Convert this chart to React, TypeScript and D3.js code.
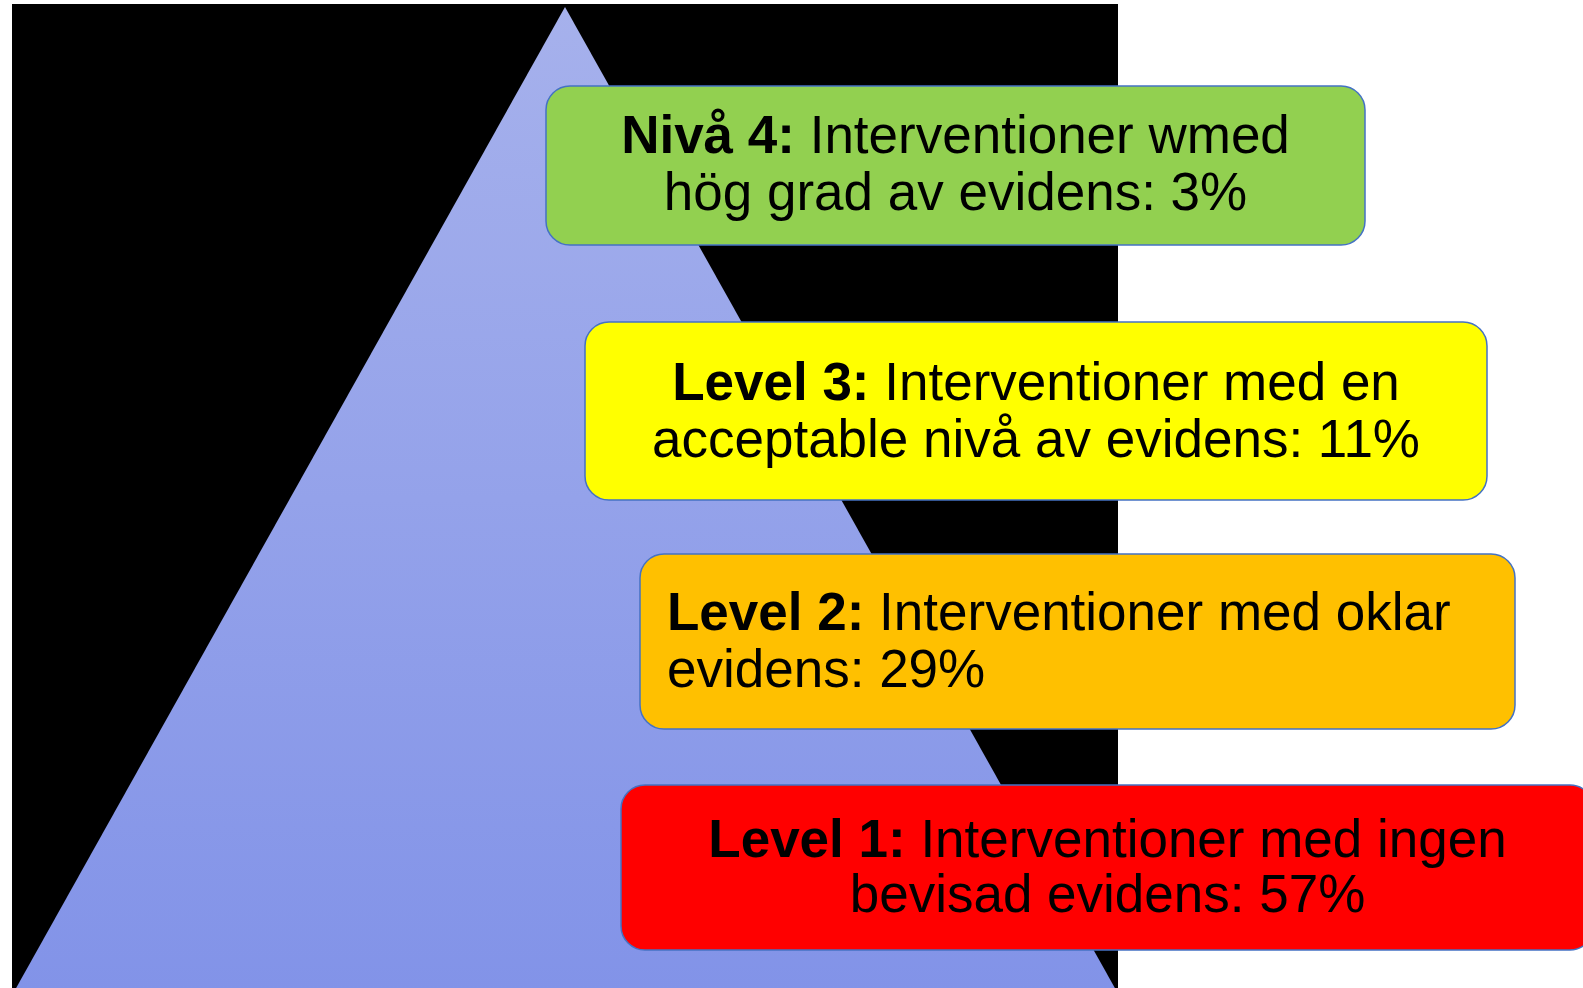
import React, { useEffect, useRef } from 'react';
import * as d3 from 'd3';

// evidence levels, top of the pyramid first
const levelPrefixes = ['Nivå 4:', 'Level 3:', 'Level 2:', 'Level 1:'];
const firstLines = [
  ' Interventioner wmed',
  ' Interventioner med en',
  ' Interventioner med oklar',
  ' Interventioner med ingen',
];
const secondLines = [
  'hög grad av evidens:',
  'acceptable nivå av evidens:',
  'evidens:',
  'bevisad evidens:',
];
const percentages = [3, 11, 29, 57];
const levelColors = ['#92D050', '#FFFF00', '#FFC000', '#FF0000'];

// box geometry (px) for each level, same order as above
const boxLayout = [
  { x0: 546, x1: 1365, y0: 86, y1: 245, base1: 153, base2: 210, align: 'middle' },
  { x0: 585, x1: 1487, y0: 322, y1: 500, base1: 400, base2: 457, align: 'middle' },
  { x0: 640, x1: 1515, y0: 554, y1: 729, base1: 630, base2: 687, align: 'start' },
  { x0: 621, x1: 1594, y0: 785, y1: 950, base1: 857, base2: 912, align: 'middle' },
];

const WIDTH = 1583;
const HEIGHT = 988;

const EvidencePyramid = () => {
  const svgRef = useRef(null);

  useEffect(() => {
    const svg = d3.select(svgRef.current).attr('width', WIDTH).attr('height', HEIGHT);
    svg.selectAll('*').remove();

    svg.append('rect').attr('width', WIDTH).attr('height', HEIGHT).attr('fill', '#ffffff');

    // black backdrop
    svg.append('rect')
      .attr('x', 12).attr('y', 4)
      .attr('width', 1118 - 12).attr('height', HEIGHT - 4)
      .attr('fill', '#000000');

    // pyramid gradient
    const defs = svg.append('defs');
    const grad = defs.append('linearGradient')
      .attr('id', 'pyr-grad')
      .attr('x1', 0).attr('y1', 0).attr('x2', 0).attr('y2', 1);
    grad.append('stop').attr('offset', '0%').attr('stop-color', '#A6B1EC');
    grad.append('stop').attr('offset', '100%').attr('stop-color', '#8293E8');

    const tri: [number, number][] = [[565, 7], [1116, 990], [15, 990]];
    svg.append('path')
      .attr('d', d3.line()(tri) + 'Z')
      .attr('fill', 'url(#pyr-grad)');

    // level boxes
    const boxes = svg.selectAll('g.level')
      .data(levelPrefixes.map((p, i) => ({
        prefix: p,
        line1: firstLines[i],
        line2: `${secondLines[i]} ${percentages[i]}%`,
        color: levelColors[i],
        ...boxLayout[i],
      })))
      .join('g')
      .attr('class', 'level');

    boxes.append('rect')
      .attr('x', d => d.x0)
      .attr('y', d => d.y0)
      .attr('width', d => d.x1 - d.x0)
      .attr('height', d => d.y1 - d.y0)
      .attr('rx', 24)
      .attr('ry', 24)
      .attr('fill', d => d.color)
      .attr('stroke', '#4472C4')
      .attr('stroke-width', 1.5);

    const textX = d => (d.align === 'middle' ? (d.x0 + d.x1) / 2 : d.x0 + 27);

    const t1 = boxes.append('text')
      .attr('x', textX)
      .attr('y', d => d.base1)
      .attr('text-anchor', d => d.align)
      .attr('font-family', '"Liberation Sans", Arial, sans-serif')
      .attr('font-size', 53)
      .attr('fill', '#000');
    t1.append('tspan').attr('font-weight', 'bold').text(d => d.prefix);
    t1.append('tspan').text(d => d.line1);

    boxes.append('text')
      .attr('x', textX)
      .attr('y', d => d.base2)
      .attr('text-anchor', d => d.align)
      .attr('font-family', '"Liberation Sans", Arial, sans-serif')
      .attr('font-size', 53)
      .attr('fill', '#000')
      .text(d => d.line2);
  }, []);

  return <svg ref={svgRef} style={{ position: 'absolute', left: 0, top: 0, display: 'block' }} />;
};

export default function App() {
  return <EvidencePyramid />;
}
